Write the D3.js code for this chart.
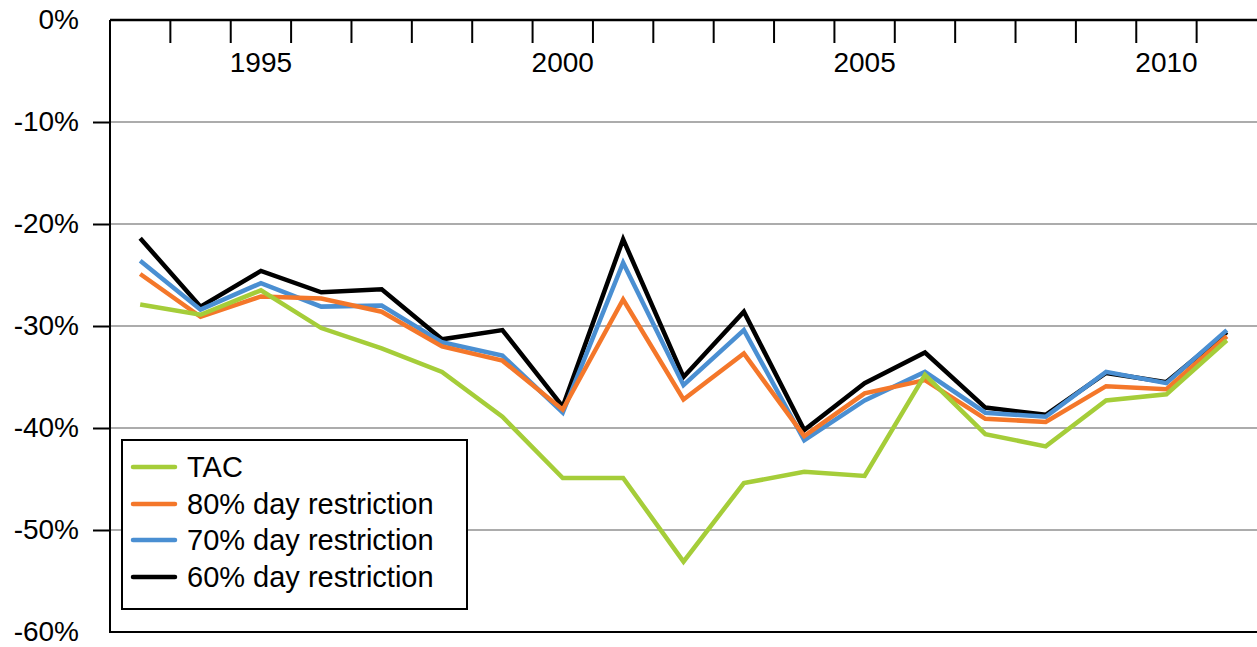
<!DOCTYPE html>
<html>
<head>
<meta charset="utf-8">
<script src="https://cdn.jsdelivr.net/npm/d3@7"></script>
<style>
  body { margin: 0; background: #fff; }
  text { font-family: "Liberation Sans", Arial, sans-serif; fill: #000; }
</style>
</head>
<body>
<div id="chart"></div>
<script>

// data (percent change)
const years = d3.range(1993, 2012);
const yearLabels = [1995, 2000, 2005, 2010];
const yTicks = [0, -10, -20, -30, -40, -50, -60];

const tac = [-27.9, -28.9, -26.5, -30.2, -32.2, -34.5, -38.9, -44.9, -44.9, -53.1,
             -45.4, -44.3, -44.7, -34.8, -40.6, -41.8, -37.3, -36.7, -31.4];
const day80 = [-24.9, -29.1, -27.1, -27.3, -28.6, -32.0, -33.4, -38.2, -27.4, -37.2,
               -32.7, -40.8, -36.6, -35.3, -39.1, -39.4, -35.9, -36.2, -31.0];
const day70 = [-23.6, -28.4, -25.8, -28.1, -28.0, -31.6, -32.9, -38.5, -23.8, -35.8,
               -30.4, -41.2, -37.3, -34.5, -38.5, -38.9, -34.5, -35.6, -30.4];
const day60 = [-21.4, -28.1, -24.6, -26.7, -26.4, -31.3, -30.4, -37.9, -21.5, -35.0,
               -28.6, -40.2, -35.6, -32.6, -38.0, -38.7, -34.6, -35.5, -30.6];

const seriesNames = ["TAC", "80% day restriction", "70% day restriction", "60% day restriction"];
const seriesValues = [tac, day80, day70, day60];
const seriesColors = ["#a5cd39", "#f4772a", "#4a8fd2", "#000000"];

const width = 1257, height = 647;
const margin = {top: 20, right: 0, bottom: 15, left: 110};

const svg = d3.select("#chart")
  .append("svg")
  .attr("width", width)
  .attr("height", height);

// scales
const x = d3.scaleBand()
  .domain(years)
  .range([margin.left, width - margin.right])
  .padding(0);

const y = d3.scaleLinear()
  .domain([-60, 0])
  .range([height - margin.bottom, margin.top]);

// gridlines
svg.append("g")
  .selectAll("line")
  .data(yTicks.filter(d => d !== 0 && d !== -60))
  .enter()
  .append("line")
    .attr("x1", margin.left)
    .attr("x2", width - margin.right)
    .attr("y1", d => y(d))
    .attr("y2", d => y(d))
    .attr("stroke", "#acacac")
    .attr("stroke-width", 2);

// y axis
const yAxis = svg.append("g")
  .attr("transform", `translate(${margin.left},0)`)
  .call(d3.axisLeft(y)
          .tickValues(yTicks)
          .tickSize(17)
          .tickPadding(14)
          .tickFormat(d => d + "%"));
yAxis.select(".domain").remove();
yAxis.selectAll(".tick line")
  .attr("stroke", "#000")
  .attr("stroke-width", 2)
  .attr("display", d => (d === 0 || d === -60) ? "none" : null);
yAxis.selectAll("text")
  .attr("font-size", "28px")
  .attr("font-family", "Liberation Sans, Arial, sans-serif");

// x axis at the top (0%), labels sit under it
const xAxis = svg.append("g")
  .attr("transform", `translate(0,${y(0)})`)
  .call(d3.axisBottom(x)
          .tickValues(yearLabels)
          .tickSize(0)
          .tickPadding(32));
xAxis.select(".domain").remove();
xAxis.selectAll("text")
  .attr("font-size", "28px")
  .attr("font-family", "Liberation Sans, Arial, sans-serif");

// tick marks between the years
svg.append("g")
  .selectAll("line")
  .data(years.slice(1))
  .enter()
  .append("line")
    .attr("x1", d => x(d))
    .attr("x2", d => x(d))
    .attr("y1", y(0))
    .attr("y2", y(0) + 23)
    .attr("stroke", "#000")
    .attr("stroke-width", 2);

// frame lines: top, left, bottom
svg.append("line")
  .attr("x1", margin.left).attr("x2", width)
  .attr("y1", y(0)).attr("y2", y(0))
  .attr("stroke", "#000").attr("stroke-width", 2.5);
svg.append("line")
  .attr("x1", margin.left).attr("x2", margin.left)
  .attr("y1", y(0)).attr("y2", y(-60) + 1)
  .attr("stroke", "#000").attr("stroke-width", 2);
svg.append("line")
  .attr("x1", margin.left).attr("x2", width)
  .attr("y1", y(-60)).attr("y2", y(-60))
  .attr("stroke", "#000").attr("stroke-width", 2);

// lines (drawn back to front: 60%, 70%, 80%, TAC)
const line = d3.line()
  .x((d, i) => x(years[i]) + x.bandwidth() / 2)
  .y(d => y(d));

const order = [3, 2, 1, 0];
svg.append("g")
  .selectAll("path")
  .data(order)
  .enter()
  .append("path")
    .attr("d", i => line(seriesValues[i]))
    .attr("fill", "none")
    .attr("stroke", i => seriesColors[i])
    .attr("stroke-width", 4.5)
    .attr("stroke-linejoin", "miter");

// legend
const legend = svg.append("g");
legend.append("rect")
  .attr("x", 122)
  .attr("y", 440)
  .attr("width", 345)
  .attr("height", 169)
  .attr("fill", "#fff")
  .attr("stroke", "#000")
  .attr("stroke-width", 2);

const legendY = [467, 504, 540, 577];
const items = legend.selectAll(".item")
  .data(seriesNames)
  .enter()
  .append("g")
    .attr("class", "item")
    .attr("transform", (d, i) => `translate(0,${legendY[i]})`);

items.append("line")
  .attr("x1", 133).attr("x2", 175)
  .attr("y1", 0).attr("y2", 0)
  .attr("stroke", (d, i) => seriesColors[i])
  .attr("stroke-width", 4.5)
  .attr("stroke-linecap", "round");

items.append("text")
  .attr("x", 187)
  .attr("y", 0)
  .attr("dy", "0.35em")
  .attr("font-size", "29px")
  .text(d => d);

</script>
</body>
</html>
